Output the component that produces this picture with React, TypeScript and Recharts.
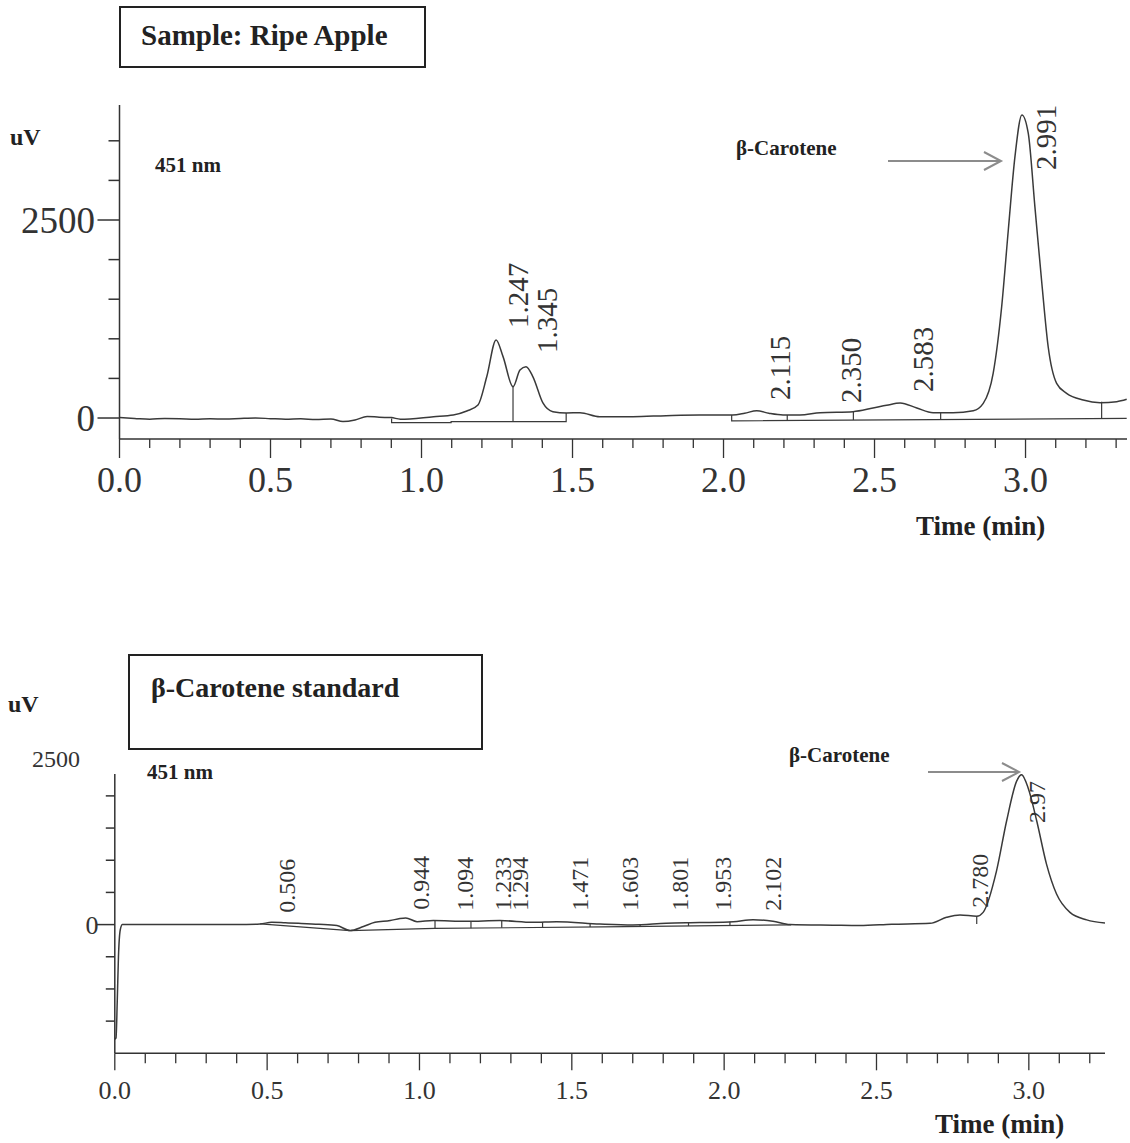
import React from 'react';
import { ComposedChart, Line, Scatter, XAxis, YAxis } from 'recharts';

// ---------- top panel: ripe apple sample ----------
const appleTime = [
  0.0, 0.05, 0.1, 0.15, 0.2, 0.25, 0.3, 0.35, 0.4, 0.45,
  0.5, 0.55, 0.6, 0.65, 0.7, 0.74, 0.78, 0.82, 0.86, 0.9,
  0.93, 1.04, 1.105, 1.15, 1.187, 1.216, 1.247, 1.27, 1.303, 1.326,
  1.346, 1.369, 1.402, 1.435, 1.48, 1.525, 1.59, 1.7, 1.81, 1.92,
  2.03, 2.07, 2.11, 2.15, 2.197, 2.253, 2.32, 2.429, 2.495, 2.54,
  2.585, 2.64, 2.694, 2.76, 2.827, 2.86, 2.893, 2.921, 2.943, 2.965,
  2.988, 3.009, 3.031, 3.054, 3.075, 3.103, 3.136, 3.191, 3.247, 3.302,
  3.335,
];
const appleSignal = [
  5, -5, -15, -5, -8, -15, -10, -12, -5, 0,
  -8, -15, -10, -20, -12, -45, -25, 20, 10, 5,
  -15, 17, 38, 88, 164, 520, 985, 775, 395, 606,
  648, 520, 190, 80, 63, 67, 17, 17, 30, 38,
  38, 60, 92, 60, 38, 38, 67, 80, 126, 160,
  190, 126, 67, 67, 92, 185, 568, 1405, 2374, 3300,
  3827, 3596, 2669, 1701, 900, 438, 312, 227, 194, 206,
  236,
];

// integration baselines + peak cut marks
const appleBaseATime = [0.901, 0.901, 1.098, 1.098, 1.479, 1.479];
const appleBaseASignal = [-5, -58, -58, -45, -45, 63];
const appleBaseBTime = [2.027, 2.027, 3.335];
const appleBaseBSignal = [38, -35, -5];
const appleCutTime = [1.303, 2.211, 2.43, 2.719, 3.252];
const appleCutTop = [395, 38, 80, 67, 206];
const appleCutBottom = [-45, -31, -26, -20, -7];

const applePeakText = ['1.247', '1.345', '2.115', '2.350', '2.583', '2.991'];
const applePeakTime = [1.32, 1.416, 2.187, 2.422, 2.661, 3.068];
const applePeakSignal = [1137, 821, 227, 190, 328, 3132];

const appleXTicks = [
  0, 0.1, 0.2, 0.3, 0.4, 0.5, 0.6, 0.7, 0.8, 0.9, 1.0, 1.1, 1.2, 1.3, 1.4, 1.5, 1.6,
  1.7, 1.8, 1.9, 2.0, 2.1, 2.2, 2.3, 2.4, 2.5, 2.6, 2.7, 2.8, 2.9, 3.0, 3.1, 3.2, 3.3,
];
const appleYTicks = [0, 500, 1000, 1500, 2000, 2500, 3000, 3500];
const appleYLabels = [0, 2500];

// ---------- bottom panel: beta-carotene standard ----------
const stdTime = [
  0.0, 0.004, 0.008, 0.012, 0.018, 0.025, 0.1, 0.2, 0.3, 0.4,
  0.477, 0.515, 0.56, 0.603, 0.67, 0.729, 0.772, 0.816, 0.854, 0.904,
  0.936, 0.955, 0.992, 1.045, 1.155, 1.264, 1.372, 1.45, 1.592, 1.7,
  1.81, 1.92, 2.03, 2.095, 2.16, 2.216, 2.357, 2.445, 2.55, 2.676,
  2.73, 2.774, 2.829, 2.85, 2.894, 2.927, 2.96, 2.976, 2.998, 3.026,
  3.058, 3.091, 3.135, 3.19, 3.25,
];
const stdSignal = [
  -1780, -1760, -1200, -500, -80, 0, 0, 0, 0, 0,
  10, 36, 28, 20, 5, -15, -93, -31, 36, 62,
  95, 103, 46, 62, 52, 62, 36, 46, 10, -5,
  20, 31, 46, 77, 52, 0, -10, -15, 5, 20,
  113, 150, 129, 190, 835, 1610, 2230, 2330, 2120, 1610,
  940, 475, 190, 73, 25,
];

const stdBaseTime = [0.477, 0.772, 1.05, 1.6, 2.22];
const stdBaseSignal = [10, -93, -60, -35, -5];
const stdCutTime = [1.051, 1.169, 1.27, 1.404, 1.56, 1.724, 1.883, 2.019, 2.205, 2.829];
const stdCutTop = [62, 54, 62, 40, 14, -2, 25, 44, 5, 129];
const stdCutBottom = [-60, -55, -50, -44, -37, -29, -21, -14, -5, 8];

const stdPeakText = ['0.506', '0.944', '1.094', '1.233', '1.294', '1.471', '1.603', '1.801', '1.953', '2.102', '2.780', '2.97'];
const stdPeakTime = [0.565, 1.005, 1.149, 1.273, 1.33, 1.527, 1.691, 1.855, 1.996, 2.16, 2.839, 3.027];
const stdPeakSignal = [186, 232, 217, 217, 217, 217, 217, 217, 217, 217, 263, 1578];

const stdXTicks = [
  0, 0.1, 0.2, 0.3, 0.4, 0.5, 0.6, 0.7, 0.8, 0.9, 1.0, 1.1, 1.2, 1.3, 1.4, 1.5, 1.6,
  1.7, 1.8, 1.9, 2.0, 2.1, 2.2, 2.3, 2.4, 2.5, 2.6, 2.7, 2.8, 2.9, 3.0, 3.1, 3.2,
];
const stdYTicks = [-1500, -1000, -500, 0, 500, 1000, 1500, 2000];
const stdYLabels = [0];

const SERIF = '"Liberation Serif", "Times New Roman", serif';
const INK = '#333';

const zip = (t: number[], v: number[]) => t.map((x, i) => ({ t: x, v: v[i] }));
const zipLabels = (t: number[], v: number[], s: string[]) => t.map((x, i) => ({ t: x, v: v[i], label: s[i] }));
const cuts = (t: number[], top: number[], bottom: number[]) =>
  t.map((x, i) => [{ t: x, v: top[i] }, { t: x, v: bottom[i] }]);

const makeTimeTick = (majorLen: number, minorLen: number, fontSize: number, labelDy: number) => (props: any) => {
  const { x, y, payload } = props;
  const val = payload.value as number;
  const major = Math.abs(val * 2 - Math.round(val * 2)) < 1e-6;
  return (
    <g>
      <line x1={x} x2={x} y1={y} y2={y + (major ? majorLen : minorLen)} stroke={INK} strokeWidth={1.3} />
      {major && (
        <text x={x} y={y + labelDy} textAnchor="middle" fontFamily={SERIF} fontSize={fontSize} fill={INK}>
          {val.toFixed(1)}
        </text>
      )}
    </g>
  );
};

const makeSignalTick = (labeled: number[], longLen: number, shortLen: number, fontSize: number, gap: number, dy: number) => (props: any) => {
  const { x, y, payload, index } = props;
  const val = Number(payload.value);
  const hasLabel = labeled.indexOf(val) >= 0;
  return (
    <g key={`ytick-${index}`}>
      <line x1={x - (hasLabel ? longLen : shortLen)} x2={x} y1={y} y2={y} stroke={INK} strokeWidth={1.5} />
      <text x={x - gap} y={y + dy} textAnchor="end" fontFamily={SERIF} fontSize={fontSize} fill={INK}>
        {hasLabel ? String(val) : ''}
      </text>
    </g>
  );
};

const makePeakLabel = (fontSize: number) => (props: any) => {
  const { cx, cy, payload } = props;
  if (cx == null || cy == null) return null;
  return (
    <text
      x={cx}
      y={cy}
      dy="0.35em"
      transform={`rotate(-90 ${cx} ${cy})`}
      textAnchor="start"
      fontFamily={SERIF}
      fontSize={fontSize}
      fill={INK}
    >
      {payload.label}
    </text>
  );
};

const traceProps = { type: 'monotone' as const, stroke: '#3a3a3a', strokeWidth: 1.5, dot: false, isAnimationActive: false };
const markProps = { type: 'linear' as const, stroke: '#3a3a3a', strokeWidth: 1.2, dot: false, isAnimationActive: false };

const Chromatogram = (props: {
  width: number; height: number; margin: any; xDomain: number[]; yDomain: number[];
  trace: any[]; bases: any[][]; cutMarks: any[][]; peaks: any[];
  xTicks: number[]; yTicks: number[]; xTick: any; yTick: any; peakShape: any; xHeight: number;
}) => (
  <ComposedChart width={props.width} height={props.height} margin={props.margin}>
    <XAxis
      type="number"
      dataKey="t"
      domain={props.xDomain}
      allowDataOverflow
      ticks={props.xTicks}
      interval={0}
      tickSize={0}
      tickMargin={0}
      tickLine={false}
      tick={props.xTick}
      height={props.xHeight}
      axisLine={{ stroke: INK, strokeWidth: 1.5 }}
    />
    <YAxis
      type="number"
      dataKey="v"
      domain={props.yDomain}
      allowDataOverflow
      ticks={props.yTicks}
      interval={0}
      tickSize={0}
      tickMargin={0}
      tickLine={false}
      tick={props.yTick}
      width={100}
      axisLine={{ stroke: INK, strokeWidth: 1.5 }}
    />
    {props.bases.map((d, i) => (
      <Line key={`b${i}`} data={d} dataKey="v" {...markProps} />
    ))}
    {props.cutMarks.map((d, i) => (
      <Line key={`c${i}`} data={d} dataKey="v" {...markProps} />
    ))}
    <Line data={props.trace} dataKey="v" {...traceProps} />
    <Scatter data={props.peaks} dataKey="v" shape={props.peakShape} isAnimationActive={false} />
  </ComposedChart>
);

const Arrow = ({ x1, x2, y }: { x1: number; x2: number; y: number }) => (
  <g stroke="#8c8c8c" strokeWidth={2} fill="none">
    <line x1={x1} x2={x2} y1={y} y2={y} />
    <polyline points={`${x2 - 17},${y - 9} ${x2},${y} ${x2 - 17},${y + 9}`} />
  </g>
);

export default function App() {
  return (
    <div style={{ position: 'absolute', left: 0, top: 0, width: 1130, height: 1143, background: '#fff', overflow: 'hidden' }}>
      {/* annotations sit underneath the charts */}
      <svg
        width={1130}
        height={1143}
        style={{ position: 'absolute', left: 0, top: 0 }}
        fontFamily={SERIF}
      >
        <rect x={120} y={7} width={305} height={60} fill="none" stroke="#222" strokeWidth={2} />
        <text x={141} y={45} fontSize={29} fontWeight="bold" fill="#222">Sample: Ripe Apple</text>
        <text x={10} y={145} fontSize={24} fontWeight="bold" fill="#222">uV</text>
        <text x={155} y={172} fontSize={21} fontWeight="bold" fill="#222">451 nm</text>
        <text x={736} y={155} fontSize={21} fontWeight="bold" fill="#222">β-Carotene</text>
        <Arrow x1={888} x2={1001} y={161} />
        <text x={916} y={535} fontSize={27} fontWeight="bold" fill="#222">Time (min)</text>

        <rect x={129} y={655} width={353} height={94} fill="none" stroke="#222" strokeWidth={2} />
        <text x={151} y={697} fontSize={28} fontWeight="bold" fill="#222">β-Carotene standard</text>
        <text x={8} y={712} fontSize={24} fontWeight="bold" fill="#222">uV</text>
        <text x={80} y={767} fontSize={24} textAnchor="end" fill={INK}>2500</text>
        <text x={147} y={779} fontSize={21} fontWeight="bold" fill="#222">451 nm</text>
        <text x={789} y={762} fontSize={21} fontWeight="bold" fill="#222">β-Carotene</text>
        <Arrow x1={928} x2={1019} y={772} />
        <text x={935} y={1133} fontSize={27} fontWeight="bold" fill="#222">Time (min)</text>
      </svg>
      <div style={{ position: 'absolute', left: 0, top: 0 }}>
        <Chromatogram
          width={1130}
          height={560}
          margin={{ top: 105, right: 3, bottom: 61, left: 19.5 }}
          xDomain={[0, 3.336]}
          yDomain={[-265, 3952]}
          trace={zip(appleTime, appleSignal)}
          bases={[zip(appleBaseATime, appleBaseASignal), zip(appleBaseBTime, appleBaseBSignal)]}
          cutMarks={cuts(appleCutTime, appleCutTop, appleCutBottom)}
          peaks={zipLabels(applePeakTime, applePeakSignal, applePeakText)}
          xTicks={appleXTicks}
          yTicks={appleYTicks}
          xTick={makeTimeTick(19, 9, 36, 53)}
          yTick={makeSignalTick(appleYLabels, 22, 11, 37, 24.5, 12.5)}
          peakShape={makePeakLabel(29)}
          xHeight={60}
        />
      </div>
      <div style={{ position: 'absolute', left: 0, top: 560 }}>
        <Chromatogram
          width={1130}
          height={583}
          margin={{ top: 214, right: 25, bottom: 39.7, left: 14.8 }}
          xDomain={[0, 3.25]}
          yDomain={[-2000, 2340]}
          trace={zip(stdTime, stdSignal)}
          bases={[zip(stdBaseTime, stdBaseSignal)]}
          cutMarks={cuts(stdCutTime, stdCutTop, stdCutBottom)}
          peaks={zipLabels(stdPeakTime, stdPeakSignal, stdPeakText)}
          xTicks={stdXTicks}
          yTicks={stdYTicks}
          xTick={makeTimeTick(17, 10, 26, 46)}
          yTick={makeSignalTick(stdYLabels, 18, 9, 26, 16.3, 9)}
          peakShape={makePeakLabel(24)}
          xHeight={50}
        />
      </div>
    </div>
  );
}
